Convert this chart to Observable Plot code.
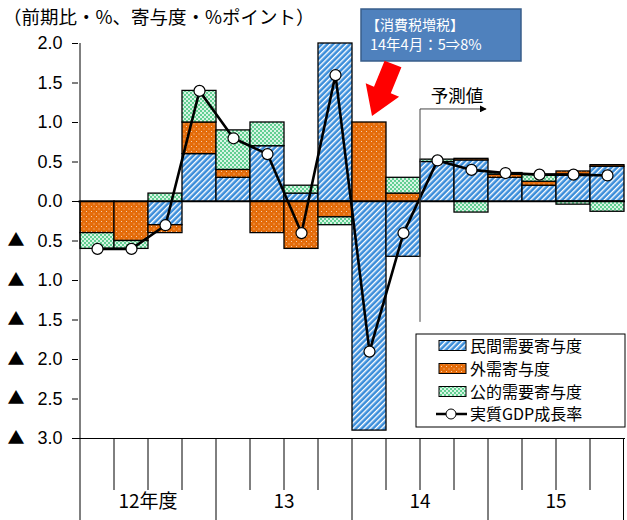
<!DOCTYPE html>
<html><head><meta charset="utf-8">
<script src="https://cdn.jsdelivr.net/npm/d3@7"></script>
<script src="https://cdn.jsdelivr.net/npm/@observablehq/plot@0.6"></script>
<style>
body{margin:0;background:#fff;}
#chart{position:relative;width:627px;height:520px;}
</style></head><body>
<svg width="0" height="0" style="position:absolute">
<defs>
<pattern id="pBlue" patternUnits="userSpaceOnUse" width="4" height="4" patternTransform="rotate(45)">
<rect width="4" height="4" fill="#3A8DDA"/>
<rect x="0" y="0" width="1.4" height="4" fill="#ffffff"/>
</pattern>
<pattern id="pOrange" patternUnits="userSpaceOnUse" width="5" height="5">
<rect width="5" height="5" fill="#E46C0A"/>
<rect x="1" y="1" width="1" height="1" fill="#F8D0B0"/>
<rect x="3.5" y="3.5" width="1" height="1" fill="#F8D0B0"/>
</pattern>
<pattern id="pGreen" patternUnits="userSpaceOnUse" width="4" height="4">
<rect width="4" height="4" fill="#62CF92"/>
<rect x="0" y="0" width="2" height="2" fill="#D8F5E4"/>
<rect x="2" y="2" width="2" height="2" fill="#D8F5E4"/>
</pattern>
</defs>
</svg>
<div id="chart"></div>
<script>
const quarters = ["12Q1","12Q2","12Q3","12Q4","13Q1","13Q2","13Q3","13Q4","14Q1","14Q2","14Q3","14Q4","15Q1","15Q2","15Q3","15Q4"];
const yearLabels = ["12年度","13","14","15"];
const seriesNames = ["民間需要寄与度","外需寄与度","公的需要寄与度","実質GDP成長率"];
const privateDemand  = [0.0, 0.0, -0.3, 0.6, 0.3, 0.7, 0.1, 2.0, -2.9, -0.7, 0.50, 0.52, 0.30, 0.20, 0.34, 0.44];
const externalDemand = [-0.4, -0.5, -0.1, 0.4, 0.1, -0.4, -0.6, -0.2, 1.0, 0.1, 0.0, 0.02, 0.04, 0.05, 0.04, 0.02];
const publicDemand   = [-0.2, -0.1, 0.1, 0.4, 0.5, 0.3, 0.1, -0.1, 0.0, 0.2, 0.03, -0.14, 0.02, 0.09, -0.04, -0.13];
const gdpGrowth      = [-0.6, -0.6, -0.3, 1.4, 0.8, 0.6, -0.4, 1.6, -1.9, -0.4, 0.52, 0.40, 0.36, 0.34, 0.34, 0.33];
const yTicks = [2.0, 1.5, 1.0, 0.5, 0.0, -0.5, -1.0, -1.5, -2.0, -2.5, -3.0];

const FONT = "'Noto Sans CJK JP','Noto Sans',sans-serif";
const NUMFONT = "'Liberation Sans',Arial,sans-serif";
const fills = ["url(#pBlue)","url(#pOrange)","url(#pGreen)"];

const bars = [];
quarters.forEach((q, i) => {
  [privateDemand, externalDemand, publicDemand].forEach((arr, k) => {
    if (arr[i] !== 0) bars.push({q, series: seriesNames[k], value: arr[i]});
  });
});
const line = quarters.map((q, i) => ({q, v: gdpGrowth[i]}));

const chart = Plot.plot({
  width: 627, height: 520,
  marginLeft: 78, marginRight: 2, marginTop: 43, marginBottom: 82,
  style: {fontFamily: FONT, fontSize: "17px", color: "#000", background: "transparent"},
  x: {type: "band", domain: quarters, padding: 0, axis: null},
  y: {domain: [-3, 2], axis: null},
  color: {domain: seriesNames.slice(0,3), range: fills},
  marks: [
    Plot.axisY({ticks: yTicks, tickSize: 6, tickFormat: () => "", label: null}),
    Plot.text(yTicks, {y: d => d, frameAnchor: "left", dx: -16, textAnchor: "end",
      text: d => d3.format(".1f")(Math.abs(d)), fontSize: 18, fontFamily: NUMFONT}),
    Plot.text(yTicks.filter(d => d < 0), {y: d => d, frameAnchor: "left", dx: -71, textAnchor: "start",
      text: () => "▲", fontSize: 17, fontFamily: FONT}),
    Plot.barY(bars, {x: "q", y: "value", fill: "series", stroke: "#000", strokeWidth: 1.3}),
    Plot.ruleY([0], {stroke: "#000", strokeWidth: 1.3}),
    Plot.ruleY([-3], {stroke: "#000", strokeWidth: 1}),
    Plot.line(line, {x: "q", y: "v", stroke: "#000", strokeWidth: 2.6}),
    Plot.dot(line, {x: "q", y: "v", r: 5.5, fill: "#fff", stroke: "#000", strokeWidth: 1.2})
  ]
});
document.getElementById("chart").appendChild(chart);

const svg = d3.select(chart);
const xs = chart.scale("x"), ys = chart.scale("y");
const bw = xs.bandwidth;
const left = xs.apply(quarters[0]);
const right = xs.apply(quarters[15]) + bw;
const y0 = ys.apply(-3), yTop = ys.apply(2);
const g = svg.append("g");

// y axis line
g.append("line").attr("x1", left).attr("x2", left).attr("y1", yTop).attr("y2", 520).attr("stroke", "#000");
// bottom category ticks
quarters.forEach((q, i) => {
  if (i === 0) return;
  const x = xs.apply(q);
  const long = i % 4 === 0;
  g.append("line").attr("x1", x).attr("x2", x).attr("y1", y0).attr("y2", long ? 520 : 490).attr("stroke", "#000");
});
g.append("line").attr("x1", right - 0.5).attr("x2", right - 0.5).attr("y1", y0).attr("y2", 520).attr("stroke", "#000");
yearLabels.forEach((t, k) => {
  const cx = xs.apply(quarters[k*4]) + 2*bw;
  g.append("text").attr("x", cx).attr("y", 508).attr("text-anchor", "middle")
    .attr("font-size", 19).attr("font-family", FONT).text(t);
});

// title
svg.append("text").attr("x", 3).attr("y", 24).attr("text-anchor", "start").attr("font-size", 18.5).attr("font-family", FONT).text("（前期比・%、寄与度・%ポイント）");

// forecast marker
const fx = xs.apply(quarters[10]);
svg.append("defs").html('<marker id="ah" viewBox="0 0 10 10" refX="9" refY="5" markerWidth="7" markerHeight="7" orient="auto"><path d="M0,0L10,5L0,10z" fill="#000"/></marker>');
svg.append("path").attr("d", `M${fx},${ys.apply(-1.53)}V${ys.apply(1.165)}H${fx+66}`)
  .attr("fill", "none").attr("stroke", "#444").attr("stroke-width", 1).attr("marker-end", "url(#ah)");
svg.append("text").attr("x", fx + 37).attr("y", ys.apply(1.165) - 7).attr("text-anchor", "middle")
  .attr("font-size", 17.5).attr("font-family", FONT).text("予測値");

// tax annotation box
const bx = 361, by = 9;
svg.append("rect").attr("x", bx).attr("y", by).attr("width", 160).attr("height", 52)
  .attr("fill", "#4F81BD").attr("stroke", "#385D8A").attr("stroke-width", 1.5);
svg.append("text").attr("x", bx + 5).attr("y", by + 21).attr("text-anchor", "start").attr("fill", "#fff").attr("font-size", 14).attr("font-family", FONT).text("【消費税増税】");
svg.append("text").attr("x", bx + 9).attr("y", by + 41).attr("text-anchor", "start").attr("fill", "#fff").attr("font-size", 14.5).attr("font-family", FONT).text("14年4月：5⇒8%");
// red arrow
svg.append("polygon").attr("points", "384.6,60.7 401.4,67.3 390.8,93.3 399.1,96.7 372,116 365.7,83.3 374,86.7")
  .attr("fill", "#FF0000");

// legend
const L = svg.append("g");
L.append("rect").attr("x", 416).attr("y", 334).attr("width", 209).attr("height", 93).attr("fill", "#fff").attr("stroke", "#000");
const rows = [345.5, 368.5, 391.5, 414];
[0,1,2].forEach(k => {
  L.append("rect").attr("x", 439).attr("y", rows[k]-5).attr("width", 27).attr("height", 10)
    .attr("fill", fills[k]).attr("stroke", "#000").attr("stroke-width", 1);
});
L.append("line").attr("x1", 436).attr("x2", 467).attr("y1", rows[3]).attr("y2", rows[3]).attr("stroke", "#000").attr("stroke-width", 2.5);
L.append("circle").attr("cx", 451).attr("cy", rows[3]).attr("r", 5).attr("fill", "#fff").attr("stroke", "#000");
seriesNames.forEach((s, k) => {
  L.append("text").attr("x", 470).attr("y", rows[k] + 6).attr("text-anchor", "start").attr("font-size", 16).attr("font-family", FONT).text(s);
});
</script>
</body></html>
